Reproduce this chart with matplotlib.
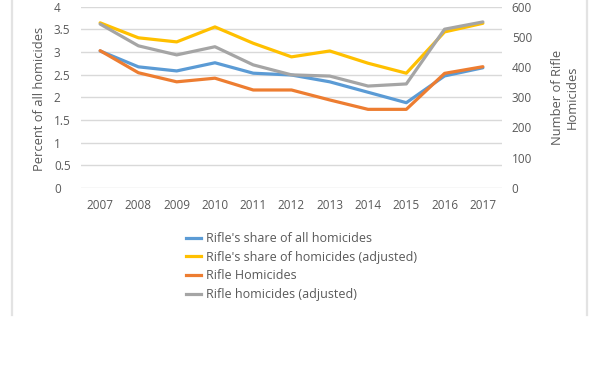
import matplotlib
matplotlib.use("Agg")
import matplotlib.pyplot as plt
from matplotlib.lines import Line2D

# data
years = ["2007", "2008", "2009", "2010", "2011", "2012",
         "2013", "2014", "2015", "2016", "2017"]
share_all = [3.02, 2.67, 2.58, 2.76, 2.53, 2.49, 2.34, 2.11, 1.88, 2.47, 2.65]
share_adj = [3.64, 3.31, 3.22, 3.55, 3.19, 2.89, 3.02, 2.75, 2.53, 3.44, 3.63]
rifle_hom = [454, 381, 351, 363, 324, 324, 291, 260, 260, 379, 401]
rifle_adj = [542, 470, 440, 467, 407, 374, 370, 337, 344, 525, 549]

left_ticks = [0, 0.5, 1, 1.5, 2, 2.5, 3, 3.5, 4]
left_labels = ["0", "0.5", "1", "1.5", "2", "2.5", "3", "3.5", "4"]
right_ticks = [0, 100, 200, 300, 400, 500, 600]

blue, orange, grey, yellow = "#5B9BD5", "#ED7D31", "#A5A5A5", "#FFC000"
txt = "#595959"
grid = "#D9D9D9"

plt.rcParams['font.family'] = ['Open Sans', 'DejaVu Sans']
fs = 8.5

W, H = 600, 385
fig = plt.figure(figsize=(W / 100, H / 100), dpi=100)

def fx(px):
    return px / W

def fy(py):
    return 1 - py / H

ax = fig.add_axes([fx(81), fy(188), fx(502) - fx(81), fy(6.5) - fy(188)])
ax2 = ax.twinx()

x = list(range(len(years)))
ax.plot(x, share_all, color=blue, lw=2.3, solid_capstyle="round", zorder=3)
ax.plot(x, share_adj, color=yellow, lw=2.3, solid_capstyle="round", zorder=3)
ax2.plot(x, rifle_hom, color=orange, lw=2.3, solid_capstyle="round", zorder=3)
ax2.plot(x, rifle_adj, color=grey, lw=2.3, solid_capstyle="round", zorder=3)

ax.set_xlim(-0.5, len(years) - 0.5)
ax.set_ylim(0, 4)
ax2.set_ylim(0, 600)
ax.set_xticks(x)
ax.set_xticklabels(years)
ax.set_yticks(left_ticks)
ax.set_yticklabels(left_labels, ha="left")
ax2.set_yticks(right_ticks)
ax.grid(axis="y", color=grid, lw=1)
ax.set_axisbelow(True)

for a in (ax, ax2):
    for s in a.spines.values():
        s.set_visible(False)
    a.tick_params(length=0, colors=txt, labelsize=fs)
ax.tick_params(axis="x", pad=8)
ax.tick_params(axis="y", pad=19.5)
ax2.tick_params(axis="y", pad=7)

fig.text(fx(40), fy(99), "Percent of all homicides", rotation=90,
         ha="center", va="center", color=txt, fontsize=fs + 0.8)
fig.text(fx(565), fy(97), "Number of Rifle\nHomicides", rotation=90,
         ha="center", va="center", color=txt, fontsize=fs + 0.8,
         linespacing=1.2)

labels = ["Rifle's share of all homicides",
          "Rifle's share of homicides (adjusted)",
          "Rifle Homicides",
          "Rifle homicides (adjusted)"]
handles = [Line2D([], [], color=c, lw=2.3) for c in (blue, yellow, orange, grey)]
fig.legend(handles, labels, loc="upper left", bbox_to_anchor=(fx(186), fy(232)),
           frameon=False, fontsize=fs + 0.5, handlelength=1.2, handletextpad=0.4,
           labelspacing=0.45, labelcolor=txt, borderaxespad=0, borderpad=0)

# chart frame remnants
fig.add_artist(Line2D([fx(12), fx(12)], [1, fy(315)], color="#E3E3E3", lw=1.6))
fig.add_artist(Line2D([fx(587), fx(587)], [1, fy(315)], color="#E3E3E3", lw=1.6))

fig.savefig("out.png", dpi=100, facecolor="white")
